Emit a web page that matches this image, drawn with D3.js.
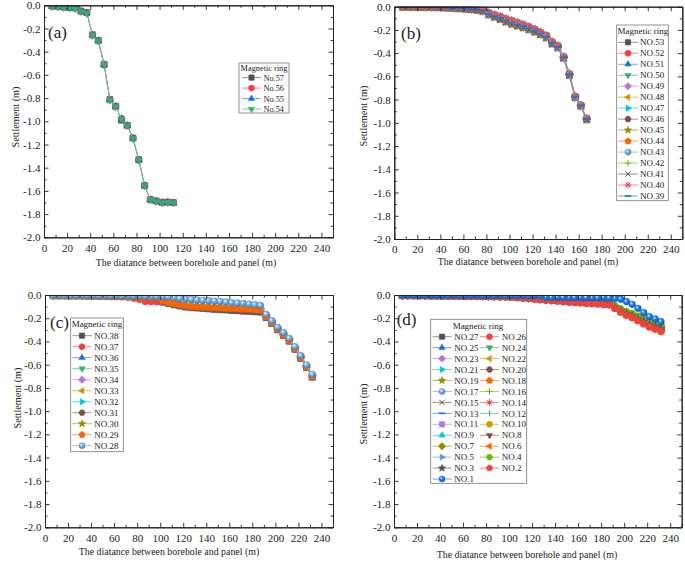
<!DOCTYPE html>
<html><head><meta charset="utf-8">
<script src="https://cdn.jsdelivr.net/npm/d3@7/dist/d3.min.js"></script>
<style>
body{margin:0;background:#fff}
svg{display:block}
text{font-family:"Liberation Serif","Times New Roman",serif;fill:#222}
</style>
</head><body>
<svg id="chart" width="685" height="562"></svg>
<script>
// ---------------- DATA ----------------
const xTicks=[0,20,40,60,80,100,120,140,160,180,200,220,240];
const xMinor=[10,30,50,70,90,110,130,150,170,190,210,230,250];
const yTicks=[0.0,-0.2,-0.4,-0.6,-0.8,-1.0,-1.2,-1.4,-1.6,-1.8,-2.0];
const yMinor=[-0.1,-0.3,-0.5,-0.7,-0.9,-1.1,-1.3,-1.5,-1.7,-1.9];

// panel (a)
const xA=[7,12,17,22,27,32,37,42,47,52,57,62,67,72,77,82,87,92,97,102,107,112];
const namesA=["No.57","No.56","No.55","No.54"];
const a57=[-0.006,-0.010,-0.015,-0.018,-0.008,-0.050,-0.062,-0.254,-0.303,-0.510,-0.813,-0.870,-0.992,-1.034,-1.144,-1.331,-1.553,-1.674,-1.686,-1.698,-1.696,-1.700];
const a56=[-0.008,-0.012,-0.016,-0.020,-0.026,-0.051,-0.064,-0.256,-0.305,-0.512,-0.815,-0.872,-0.978,-1.036,-1.146,-1.333,-1.555,-1.676,-1.688,-1.700,-1.697,-1.702];
const a55=[-0.010,-0.014,-0.018,-0.022,-0.028,-0.053,-0.066,-0.257,-0.306,-0.513,-0.816,-0.873,-0.979,-1.037,-1.147,-1.334,-1.556,-1.677,-1.689,-1.701,-1.698,-1.703];
const a54=[-0.011,-0.015,-0.019,-0.023,-0.029,-0.054,-0.067,-0.258,-0.307,-0.514,-0.817,-0.874,-0.980,-1.038,-1.148,-1.335,-1.557,-1.678,-1.690,-1.702,-1.699,-1.704];

// panel (b)
const xB=[7,12,17,22,27,32,37,42,47,52,57,62,67,72,77,82,87,92,97,102,107,112,117,122,127,132,137,142,147,152,157,162,167];
const namesB=["NO.53","NO.52","NO.51","NO.50","NO.49","NO.48","NO.47","NO.46","NO.45","NO.44","NO.43","NO.42","NO.41","NO.40","NO.39"];
const b53=[-0.002,-0.002,-0.003,-0.003,-0.004,-0.005,-0.006,-0.007,-0.009,-0.011,-0.014,-0.017,-0.021,-0.026,-0.033,-0.058,-0.077,-0.094,-0.115,-0.132,-0.149,-0.165,-0.183,-0.203,-0.228,-0.255,-0.309,-0.342,-0.435,-0.583,-0.776,-0.850,-0.966];
const b52=[-0.001,-0.001,-0.002,-0.002,-0.003,-0.004,-0.005,-0.006,-0.008,-0.010,-0.013,-0.016,-0.019,-0.023,-0.030,-0.052,-0.070,-0.085,-0.105,-0.121,-0.138,-0.155,-0.173,-0.194,-0.219,-0.248,-0.302,-0.336,-0.431,-0.578,-0.772,-0.847,-0.962];
const b51=[-0.003,-0.003,-0.004,-0.004,-0.005,-0.006,-0.008,-0.010,-0.012,-0.015,-0.018,-0.022,-0.027,-0.033,-0.042,-0.075,-0.095,-0.115,-0.138,-0.157,-0.172,-0.187,-0.204,-0.224,-0.247,-0.274,-0.327,-0.360,-0.448,-0.596,-0.787,-0.861,-0.977];
const b50=[-0.002,-0.002,-0.003,-0.003,-0.004,-0.005,-0.006,-0.008,-0.010,-0.012,-0.015,-0.018,-0.022,-0.027,-0.035,-0.062,-0.080,-0.097,-0.118,-0.135,-0.152,-0.168,-0.185,-0.205,-0.230,-0.258,-0.312,-0.345,-0.437,-0.585,-0.778,-0.852,-0.968];
const b49=[-0.003,-0.003,-0.003,-0.004,-0.005,-0.006,-0.007,-0.009,-0.011,-0.014,-0.017,-0.020,-0.025,-0.031,-0.040,-0.070,-0.090,-0.108,-0.130,-0.148,-0.164,-0.180,-0.197,-0.217,-0.240,-0.267,-0.320,-0.353,-0.443,-0.591,-0.783,-0.857,-0.973];
const b48=[-0.002,-0.002,-0.003,-0.003,-0.004,-0.005,-0.006,-0.008,-0.010,-0.012,-0.015,-0.018,-0.022,-0.028,-0.036,-0.064,-0.083,-0.100,-0.121,-0.138,-0.155,-0.171,-0.188,-0.208,-0.233,-0.261,-0.315,-0.348,-0.439,-0.587,-0.780,-0.854,-0.970];
const b47=[-0.001,-0.001,-0.002,-0.002,-0.003,-0.004,-0.005,-0.006,-0.008,-0.010,-0.012,-0.015,-0.018,-0.022,-0.028,-0.048,-0.065,-0.080,-0.100,-0.115,-0.132,-0.150,-0.168,-0.190,-0.215,-0.245,-0.298,-0.332,-0.428,-0.575,-0.770,-0.845,-0.960];
const b46=[-0.002,-0.002,-0.003,-0.003,-0.004,-0.005,-0.006,-0.008,-0.010,-0.012,-0.015,-0.019,-0.023,-0.028,-0.036,-0.060,-0.079,-0.096,-0.117,-0.134,-0.151,-0.167,-0.184,-0.204,-0.229,-0.257,-0.311,-0.344,-0.436,-0.584,-0.777,-0.851,-0.967];
const b45=[-0.003,-0.003,-0.004,-0.004,-0.005,-0.006,-0.007,-0.009,-0.011,-0.014,-0.017,-0.021,-0.026,-0.032,-0.041,-0.072,-0.092,-0.111,-0.132,-0.151,-0.167,-0.182,-0.199,-0.219,-0.242,-0.269,-0.322,-0.355,-0.445,-0.593,-0.784,-0.858,-0.974];
const b44=[-0.002,-0.002,-0.003,-0.003,-0.004,-0.005,-0.006,-0.008,-0.010,-0.013,-0.016,-0.019,-0.023,-0.028,-0.036,-0.063,-0.082,-0.099,-0.120,-0.137,-0.154,-0.170,-0.187,-0.207,-0.232,-0.260,-0.314,-0.347,-0.438,-0.586,-0.779,-0.853,-0.969];
const b43=[-0.001,-0.002,-0.002,-0.003,-0.003,-0.004,-0.005,-0.007,-0.009,-0.011,-0.013,-0.016,-0.020,-0.024,-0.031,-0.055,-0.072,-0.088,-0.108,-0.124,-0.141,-0.158,-0.176,-0.197,-0.222,-0.251,-0.305,-0.339,-0.433,-0.580,-0.774,-0.848,-0.964];
const b42=[-0.002,-0.002,-0.002,-0.003,-0.004,-0.005,-0.006,-0.007,-0.009,-0.012,-0.014,-0.017,-0.021,-0.027,-0.034,-0.061,-0.079,-0.096,-0.117,-0.134,-0.151,-0.167,-0.186,-0.206,-0.231,-0.259,-0.313,-0.346,-0.438,-0.586,-0.779,-0.853,-0.969];
const b41=[-0.003,-0.003,-0.004,-0.004,-0.005,-0.006,-0.008,-0.010,-0.012,-0.015,-0.018,-0.022,-0.027,-0.033,-0.042,-0.074,-0.094,-0.114,-0.134,-0.154,-0.169,-0.184,-0.201,-0.221,-0.244,-0.271,-0.324,-0.357,-0.446,-0.594,-0.785,-0.859,-0.975];
const b40=[-0.001,-0.001,-0.001,-0.002,-0.002,-0.003,-0.004,-0.005,-0.007,-0.009,-0.011,-0.014,-0.017,-0.021,-0.027,-0.046,-0.063,-0.078,-0.098,-0.113,-0.130,-0.148,-0.166,-0.188,-0.213,-0.243,-0.296,-0.330,-0.426,-0.573,-0.768,-0.843,-0.958];
const b39=[-0.002,-0.002,-0.003,-0.003,-0.004,-0.005,-0.006,-0.008,-0.010,-0.012,-0.015,-0.018,-0.022,-0.027,-0.035,-0.063,-0.081,-0.098,-0.119,-0.136,-0.153,-0.169,-0.186,-0.206,-0.231,-0.259,-0.313,-0.346,-0.437,-0.585,-0.778,-0.852,-0.968];

// panel (c) and (d) share the x positions
const xCD=[7,12,17,22,27,32,37,42,47,52,57,62,67,72,77,82,87,92,97,102,107,112,117,122,127,132,137,142,147,152,157,162,167,172,177,182,187,192,197,202,207,212,217,222,227,232];
const namesC=["NO.38","NO.37","NO.36","NO.35","NO.34","NO.33","NO.32","NO.31","NO.30","NO.29","NO.28"];
const c38=[-0.006,-0.006,-0.006,-0.007,-0.007,-0.007,-0.008,-0.008,-0.009,-0.009,-0.010,-0.010,-0.010,-0.010,-0.011,-0.012,-0.014,-0.016,-0.018,-0.060,-0.072,-0.085,-0.095,-0.104,-0.110,-0.113,-0.117,-0.121,-0.124,-0.127,-0.130,-0.133,-0.136,-0.139,-0.142,-0.145,-0.148,-0.195,-0.245,-0.300,-0.348,-0.398,-0.468,-0.545,-0.625,-0.708];
const c37=[-0.005,-0.005,-0.006,-0.006,-0.007,-0.007,-0.008,-0.009,-0.010,-0.011,-0.012,-0.014,-0.016,-0.020,-0.028,-0.038,-0.057,-0.058,-0.058,-0.062,-0.070,-0.077,-0.086,-0.094,-0.099,-0.102,-0.106,-0.109,-0.112,-0.115,-0.118,-0.121,-0.124,-0.127,-0.130,-0.133,-0.137,-0.190,-0.242,-0.296,-0.344,-0.394,-0.464,-0.541,-0.621,-0.704];
const c36=[-0.006,-0.006,-0.007,-0.007,-0.007,-0.008,-0.008,-0.009,-0.009,-0.010,-0.010,-0.010,-0.011,-0.011,-0.011,-0.012,-0.015,-0.017,-0.019,-0.062,-0.075,-0.087,-0.097,-0.106,-0.112,-0.116,-0.120,-0.124,-0.127,-0.130,-0.133,-0.136,-0.139,-0.142,-0.145,-0.148,-0.150,-0.198,-0.249,-0.304,-0.352,-0.402,-0.472,-0.549,-0.629,-0.712];
const c35=[-0.005,-0.005,-0.006,-0.006,-0.006,-0.007,-0.007,-0.008,-0.008,-0.009,-0.009,-0.009,-0.010,-0.010,-0.010,-0.011,-0.013,-0.015,-0.017,-0.052,-0.064,-0.075,-0.086,-0.095,-0.101,-0.104,-0.107,-0.110,-0.112,-0.115,-0.118,-0.120,-0.122,-0.125,-0.127,-0.130,-0.133,-0.188,-0.240,-0.294,-0.342,-0.392,-0.462,-0.540,-0.620,-0.702];
const c34=[-0.005,-0.005,-0.005,-0.006,-0.006,-0.006,-0.007,-0.007,-0.008,-0.008,-0.009,-0.009,-0.009,-0.010,-0.010,-0.011,-0.013,-0.014,-0.016,-0.050,-0.061,-0.072,-0.082,-0.092,-0.097,-0.100,-0.103,-0.106,-0.108,-0.110,-0.113,-0.115,-0.117,-0.120,-0.122,-0.125,-0.128,-0.185,-0.238,-0.292,-0.340,-0.390,-0.460,-0.538,-0.618,-0.700];
const c33=[-0.004,-0.004,-0.005,-0.005,-0.005,-0.006,-0.006,-0.007,-0.007,-0.008,-0.008,-0.008,-0.009,-0.009,-0.009,-0.010,-0.012,-0.013,-0.015,-0.045,-0.056,-0.067,-0.078,-0.086,-0.091,-0.094,-0.097,-0.100,-0.102,-0.105,-0.108,-0.110,-0.112,-0.115,-0.117,-0.120,-0.123,-0.181,-0.235,-0.289,-0.336,-0.386,-0.456,-0.534,-0.614,-0.696];
const c32=[-0.004,-0.004,-0.004,-0.005,-0.005,-0.005,-0.006,-0.006,-0.007,-0.007,-0.008,-0.008,-0.008,-0.009,-0.009,-0.010,-0.011,-0.012,-0.014,-0.042,-0.053,-0.063,-0.072,-0.080,-0.085,-0.088,-0.091,-0.094,-0.097,-0.100,-0.103,-0.106,-0.108,-0.110,-0.112,-0.115,-0.118,-0.178,-0.232,-0.286,-0.333,-0.383,-0.453,-0.530,-0.610,-0.692];
const c31=[-0.006,-0.006,-0.006,-0.006,-0.007,-0.007,-0.008,-0.008,-0.009,-0.009,-0.010,-0.010,-0.010,-0.011,-0.011,-0.012,-0.014,-0.016,-0.018,-0.058,-0.070,-0.083,-0.093,-0.102,-0.107,-0.110,-0.114,-0.118,-0.121,-0.124,-0.127,-0.130,-0.133,-0.136,-0.139,-0.142,-0.145,-0.192,-0.243,-0.297,-0.345,-0.395,-0.465,-0.543,-0.622,-0.705];
const c30=[-0.005,-0.005,-0.005,-0.005,-0.006,-0.006,-0.006,-0.007,-0.007,-0.008,-0.008,-0.009,-0.009,-0.009,-0.010,-0.011,-0.012,-0.014,-0.016,-0.048,-0.060,-0.070,-0.080,-0.090,-0.095,-0.098,-0.101,-0.104,-0.106,-0.108,-0.111,-0.113,-0.115,-0.118,-0.120,-0.123,-0.126,-0.183,-0.236,-0.290,-0.338,-0.388,-0.458,-0.536,-0.616,-0.698];
const c29=[-0.005,-0.005,-0.005,-0.006,-0.006,-0.006,-0.007,-0.007,-0.008,-0.008,-0.009,-0.009,-0.009,-0.010,-0.010,-0.011,-0.013,-0.015,-0.017,-0.052,-0.063,-0.074,-0.086,-0.093,-0.098,-0.101,-0.104,-0.107,-0.109,-0.111,-0.114,-0.116,-0.118,-0.121,-0.123,-0.126,-0.129,-0.186,-0.239,-0.293,-0.341,-0.391,-0.461,-0.539,-0.619,-0.701];
const c28=[-0.003,-0.003,-0.003,-0.004,-0.004,-0.004,-0.004,-0.005,-0.005,-0.005,-0.006,-0.006,-0.007,-0.007,-0.008,-0.009,-0.010,-0.011,-0.012,-0.015,-0.018,-0.022,-0.030,-0.034,-0.038,-0.042,-0.046,-0.049,-0.052,-0.055,-0.060,-0.066,-0.069,-0.072,-0.078,-0.083,-0.090,-0.166,-0.221,-0.278,-0.324,-0.373,-0.445,-0.522,-0.602,-0.683];

// panel (d)
const namesD=["NO.27","NO.26","NO.25","NO.24","NO.23","NO.22","NO.21","NO.20","NO.19","NO.18","NO.17","NO.16","NO.15","NO.14","NO.13","NO.12","NO.11","NO.10","NO.9","NO.8","NO.7","NO.6","NO.5","NO.4","NO.3","NO.2","NO.1"];
const r27=[-0.003,-0.003,-0.004,-0.004,-0.004,-0.005,-0.005,-0.005,-0.006,-0.006,-0.006,-0.007,-0.007,-0.008,-0.008,-0.009,-0.010,-0.010,-0.011,-0.013,-0.015,-0.018,-0.022,-0.026,-0.030,-0.034,-0.038,-0.042,-0.045,-0.048,-0.052,-0.055,-0.058,-0.061,-0.064,-0.068,-0.074,-0.109,-0.140,-0.166,-0.186,-0.212,-0.238,-0.264,-0.281,-0.300];
const r26=[-0.004,-0.004,-0.005,-0.005,-0.005,-0.006,-0.006,-0.007,-0.007,-0.008,-0.008,-0.009,-0.009,-0.010,-0.011,-0.012,-0.013,-0.014,-0.015,-0.017,-0.020,-0.024,-0.028,-0.033,-0.038,-0.042,-0.046,-0.050,-0.054,-0.058,-0.062,-0.065,-0.068,-0.071,-0.074,-0.078,-0.082,-0.112,-0.144,-0.171,-0.193,-0.219,-0.246,-0.272,-0.291,-0.310];
const r25=[-0.003,-0.003,-0.004,-0.004,-0.004,-0.005,-0.005,-0.005,-0.006,-0.006,-0.006,-0.007,-0.007,-0.008,-0.008,-0.009,-0.010,-0.011,-0.012,-0.013,-0.015,-0.018,-0.022,-0.026,-0.030,-0.034,-0.038,-0.041,-0.045,-0.048,-0.051,-0.055,-0.058,-0.061,-0.064,-0.067,-0.073,-0.107,-0.137,-0.163,-0.183,-0.209,-0.234,-0.259,-0.277,-0.295];
const r24=[-0.002,-0.002,-0.003,-0.003,-0.003,-0.004,-0.004,-0.004,-0.005,-0.005,-0.005,-0.006,-0.006,-0.006,-0.007,-0.007,-0.008,-0.008,-0.009,-0.010,-0.012,-0.014,-0.017,-0.020,-0.023,-0.026,-0.029,-0.032,-0.035,-0.038,-0.041,-0.044,-0.047,-0.050,-0.053,-0.056,-0.071,-0.103,-0.133,-0.157,-0.177,-0.201,-0.226,-0.251,-0.267,-0.285];
const r23=[-0.004,-0.004,-0.005,-0.005,-0.005,-0.006,-0.006,-0.007,-0.007,-0.008,-0.008,-0.009,-0.009,-0.010,-0.011,-0.012,-0.013,-0.014,-0.015,-0.017,-0.020,-0.024,-0.028,-0.032,-0.037,-0.041,-0.045,-0.049,-0.053,-0.057,-0.061,-0.064,-0.067,-0.070,-0.073,-0.077,-0.081,-0.110,-0.142,-0.168,-0.189,-0.216,-0.242,-0.268,-0.286,-0.305];
const r22=[-0.003,-0.003,-0.004,-0.004,-0.004,-0.005,-0.005,-0.005,-0.006,-0.006,-0.006,-0.007,-0.007,-0.008,-0.008,-0.009,-0.010,-0.010,-0.011,-0.013,-0.015,-0.018,-0.022,-0.026,-0.030,-0.034,-0.038,-0.042,-0.045,-0.048,-0.052,-0.055,-0.058,-0.061,-0.064,-0.068,-0.072,-0.105,-0.135,-0.160,-0.180,-0.205,-0.230,-0.255,-0.272,-0.290];
const r21=[-0.002,-0.002,-0.003,-0.003,-0.003,-0.004,-0.004,-0.004,-0.005,-0.005,-0.005,-0.006,-0.006,-0.006,-0.007,-0.007,-0.008,-0.008,-0.009,-0.010,-0.012,-0.014,-0.017,-0.020,-0.023,-0.026,-0.029,-0.032,-0.035,-0.038,-0.041,-0.044,-0.047,-0.050,-0.053,-0.057,-0.069,-0.101,-0.130,-0.155,-0.174,-0.198,-0.222,-0.246,-0.263,-0.280];
const r20=[-0.004,-0.004,-0.005,-0.005,-0.005,-0.006,-0.006,-0.007,-0.007,-0.008,-0.008,-0.009,-0.009,-0.010,-0.011,-0.012,-0.013,-0.014,-0.015,-0.017,-0.020,-0.024,-0.028,-0.033,-0.038,-0.042,-0.046,-0.050,-0.054,-0.058,-0.062,-0.065,-0.068,-0.071,-0.074,-0.078,-0.082,-0.109,-0.140,-0.166,-0.186,-0.212,-0.238,-0.264,-0.281,-0.300];
const r19=[-0.002,-0.002,-0.003,-0.003,-0.003,-0.004,-0.004,-0.004,-0.005,-0.005,-0.005,-0.006,-0.006,-0.006,-0.007,-0.007,-0.008,-0.008,-0.009,-0.010,-0.012,-0.014,-0.017,-0.020,-0.023,-0.026,-0.029,-0.032,-0.035,-0.038,-0.041,-0.044,-0.047,-0.050,-0.053,-0.056,-0.068,-0.100,-0.128,-0.152,-0.171,-0.194,-0.218,-0.242,-0.258,-0.275];
const r18=[-0.004,-0.004,-0.005,-0.005,-0.005,-0.006,-0.006,-0.007,-0.007,-0.008,-0.008,-0.009,-0.009,-0.010,-0.011,-0.012,-0.013,-0.014,-0.015,-0.017,-0.020,-0.024,-0.028,-0.033,-0.038,-0.042,-0.046,-0.050,-0.054,-0.058,-0.062,-0.065,-0.068,-0.071,-0.074,-0.078,-0.083,-0.114,-0.147,-0.174,-0.196,-0.223,-0.250,-0.277,-0.295,-0.315];
const r17=[-0.003,-0.003,-0.004,-0.004,-0.004,-0.005,-0.005,-0.005,-0.006,-0.006,-0.006,-0.007,-0.007,-0.008,-0.008,-0.009,-0.010,-0.010,-0.011,-0.013,-0.015,-0.018,-0.021,-0.025,-0.029,-0.033,-0.037,-0.041,-0.044,-0.047,-0.051,-0.054,-0.057,-0.060,-0.063,-0.067,-0.071,-0.103,-0.133,-0.157,-0.177,-0.201,-0.226,-0.251,-0.267,-0.285];
const r16=[-0.002,-0.002,-0.003,-0.003,-0.003,-0.004,-0.004,-0.004,-0.005,-0.005,-0.005,-0.006,-0.006,-0.006,-0.007,-0.007,-0.008,-0.008,-0.009,-0.010,-0.012,-0.014,-0.016,-0.019,-0.022,-0.025,-0.028,-0.031,-0.034,-0.037,-0.040,-0.043,-0.046,-0.049,-0.052,-0.055,-0.067,-0.098,-0.126,-0.149,-0.168,-0.191,-0.214,-0.237,-0.253,-0.270];
const r15=[-0.004,-0.004,-0.005,-0.005,-0.005,-0.006,-0.006,-0.007,-0.007,-0.008,-0.008,-0.009,-0.009,-0.010,-0.011,-0.012,-0.013,-0.014,-0.015,-0.017,-0.020,-0.024,-0.028,-0.033,-0.038,-0.042,-0.046,-0.050,-0.054,-0.058,-0.062,-0.065,-0.068,-0.071,-0.074,-0.078,-0.082,-0.111,-0.142,-0.168,-0.190,-0.216,-0.242,-0.268,-0.286,-0.305];
const r14=[-0.004,-0.004,-0.005,-0.005,-0.005,-0.006,-0.006,-0.007,-0.007,-0.008,-0.008,-0.009,-0.010,-0.011,-0.012,-0.013,-0.014,-0.015,-0.016,-0.018,-0.021,-0.025,-0.029,-0.034,-0.039,-0.043,-0.047,-0.051,-0.055,-0.059,-0.063,-0.066,-0.069,-0.072,-0.075,-0.079,-0.083,-0.112,-0.144,-0.171,-0.193,-0.219,-0.246,-0.272,-0.291,-0.310];
const r13=[-0.003,-0.003,-0.004,-0.004,-0.004,-0.005,-0.005,-0.005,-0.006,-0.006,-0.006,-0.007,-0.007,-0.008,-0.008,-0.009,-0.010,-0.010,-0.011,-0.013,-0.015,-0.018,-0.022,-0.026,-0.030,-0.034,-0.038,-0.042,-0.045,-0.048,-0.052,-0.055,-0.058,-0.061,-0.064,-0.068,-0.072,-0.105,-0.135,-0.160,-0.180,-0.205,-0.230,-0.255,-0.272,-0.290];
const r12=[-0.002,-0.002,-0.003,-0.003,-0.003,-0.004,-0.004,-0.004,-0.005,-0.005,-0.005,-0.006,-0.006,-0.006,-0.007,-0.007,-0.008,-0.008,-0.009,-0.010,-0.012,-0.014,-0.017,-0.020,-0.023,-0.026,-0.029,-0.032,-0.035,-0.038,-0.041,-0.044,-0.047,-0.050,-0.053,-0.056,-0.068,-0.100,-0.128,-0.152,-0.171,-0.194,-0.218,-0.242,-0.258,-0.275];
const r11=[-0.003,-0.003,-0.004,-0.004,-0.004,-0.005,-0.005,-0.005,-0.006,-0.006,-0.006,-0.007,-0.007,-0.008,-0.008,-0.009,-0.010,-0.010,-0.011,-0.013,-0.015,-0.018,-0.022,-0.026,-0.030,-0.034,-0.038,-0.042,-0.045,-0.048,-0.052,-0.055,-0.058,-0.061,-0.064,-0.068,-0.073,-0.107,-0.137,-0.163,-0.183,-0.209,-0.234,-0.259,-0.277,-0.295];
const r10=[-0.002,-0.002,-0.003,-0.003,-0.003,-0.004,-0.004,-0.004,-0.005,-0.005,-0.005,-0.006,-0.006,-0.006,-0.007,-0.007,-0.008,-0.008,-0.009,-0.010,-0.012,-0.014,-0.017,-0.020,-0.023,-0.026,-0.029,-0.032,-0.035,-0.038,-0.041,-0.044,-0.047,-0.050,-0.053,-0.056,-0.066,-0.096,-0.123,-0.146,-0.165,-0.187,-0.210,-0.233,-0.249,-0.265];
const r9=[-0.003,-0.003,-0.004,-0.004,-0.004,-0.005,-0.005,-0.005,-0.006,-0.006,-0.006,-0.007,-0.007,-0.008,-0.008,-0.009,-0.010,-0.010,-0.011,-0.013,-0.015,-0.018,-0.022,-0.026,-0.030,-0.034,-0.038,-0.042,-0.045,-0.048,-0.052,-0.055,-0.058,-0.061,-0.064,-0.068,-0.069,-0.101,-0.130,-0.155,-0.174,-0.198,-0.222,-0.246,-0.263,-0.280];
const r8=[-0.004,-0.004,-0.005,-0.005,-0.005,-0.006,-0.006,-0.007,-0.007,-0.008,-0.008,-0.009,-0.009,-0.010,-0.011,-0.012,-0.013,-0.014,-0.015,-0.017,-0.020,-0.024,-0.028,-0.033,-0.038,-0.042,-0.046,-0.050,-0.054,-0.058,-0.062,-0.065,-0.068,-0.071,-0.074,-0.078,-0.082,-0.109,-0.140,-0.166,-0.186,-0.212,-0.238,-0.264,-0.281,-0.300];
const r7=[-0.003,-0.003,-0.004,-0.004,-0.004,-0.005,-0.005,-0.005,-0.006,-0.006,-0.006,-0.007,-0.007,-0.008,-0.008,-0.009,-0.010,-0.010,-0.011,-0.013,-0.015,-0.018,-0.022,-0.026,-0.030,-0.034,-0.038,-0.042,-0.045,-0.048,-0.052,-0.055,-0.058,-0.061,-0.064,-0.068,-0.071,-0.103,-0.133,-0.157,-0.177,-0.201,-0.226,-0.251,-0.267,-0.285];
const r6=[-0.004,-0.004,-0.005,-0.005,-0.005,-0.006,-0.006,-0.007,-0.007,-0.008,-0.008,-0.009,-0.009,-0.010,-0.011,-0.012,-0.013,-0.014,-0.015,-0.017,-0.020,-0.024,-0.028,-0.033,-0.038,-0.042,-0.046,-0.050,-0.054,-0.058,-0.062,-0.065,-0.068,-0.071,-0.074,-0.078,-0.082,-0.110,-0.142,-0.168,-0.189,-0.216,-0.242,-0.268,-0.286,-0.305];
const r5=[-0.002,-0.002,-0.003,-0.003,-0.003,-0.004,-0.004,-0.004,-0.005,-0.005,-0.005,-0.006,-0.006,-0.006,-0.007,-0.007,-0.008,-0.008,-0.009,-0.010,-0.012,-0.014,-0.017,-0.020,-0.023,-0.026,-0.029,-0.032,-0.035,-0.038,-0.041,-0.044,-0.047,-0.050,-0.053,-0.056,-0.067,-0.098,-0.126,-0.149,-0.168,-0.191,-0.214,-0.237,-0.253,-0.270];
const r4=[-0.002,-0.002,-0.002,-0.003,-0.003,-0.003,-0.004,-0.004,-0.004,-0.005,-0.005,-0.005,-0.006,-0.006,-0.006,-0.007,-0.007,-0.008,-0.008,-0.009,-0.011,-0.013,-0.016,-0.019,-0.022,-0.025,-0.028,-0.031,-0.034,-0.037,-0.040,-0.043,-0.046,-0.049,-0.052,-0.055,-0.063,-0.092,-0.119,-0.141,-0.158,-0.180,-0.202,-0.224,-0.239,-0.255];
const r3=[-0.003,-0.003,-0.004,-0.004,-0.004,-0.005,-0.005,-0.005,-0.006,-0.006,-0.006,-0.007,-0.007,-0.008,-0.008,-0.009,-0.010,-0.010,-0.011,-0.013,-0.015,-0.018,-0.022,-0.026,-0.030,-0.034,-0.038,-0.042,-0.045,-0.048,-0.052,-0.055,-0.058,-0.061,-0.064,-0.068,-0.072,-0.105,-0.135,-0.160,-0.180,-0.205,-0.230,-0.255,-0.272,-0.290];
const r2=[-0.004,-0.004,-0.005,-0.005,-0.005,-0.006,-0.006,-0.007,-0.007,-0.008,-0.008,-0.009,-0.009,-0.010,-0.011,-0.012,-0.013,-0.014,-0.015,-0.017,-0.020,-0.024,-0.028,-0.033,-0.038,-0.042,-0.046,-0.050,-0.054,-0.058,-0.062,-0.065,-0.068,-0.071,-0.074,-0.078,-0.082,-0.112,-0.144,-0.171,-0.193,-0.219,-0.246,-0.272,-0.291,-0.310];
const r1=[-0.001,-0.001,-0.001,-0.001,-0.002,-0.002,-0.002,-0.002,-0.002,-0.003,-0.003,-0.003,-0.003,-0.003,-0.004,-0.004,-0.004,-0.004,-0.005,-0.005,-0.005,-0.006,-0.006,-0.006,-0.007,-0.020,-0.021,-0.021,-0.022,-0.022,-0.022,-0.023,-0.023,-0.023,-0.024,-0.024,-0.025,-0.029,-0.036,-0.057,-0.080,-0.115,-0.152,-0.187,-0.206,-0.230];

// ---------------- STYLE ----------------
const colors=["#515151","#F14040","#1A6FDF","#37AD6B","#B177DE","#CC9900","#00CBCC","#7D4E4E","#8E8E00","#FB6501","#6699CC","#6FB802"];
const shapes=["square","circle","triUp","triDown","diamond","triLeft","triRight","hexagon","star","pentagon","sphere","plus","cross","asterisk","dash","vbar"];
const strokeOnly=new Set(["plus","cross","asterisk","dash","vbar"]);

const svg=d3.select("#chart");
svg.append("rect").attr("width",685).attr("height",562).attr("fill","#fff");
const defs=svg.append("defs");

function poly(n,R,start){
  const p=[];
  for(let k=0;k<n;k++){const a=(start+k*360/n)*Math.PI/180;p.push([R*Math.cos(a),R*Math.sin(a)]);}
  return "M"+p.map(q=>q[0].toFixed(2)+","+q[1].toFixed(2)).join("L")+"Z";
}
function starPath(R,r){
  const p=[];
  for(let k=0;k<10;k++){const a=(-90+k*36)*Math.PI/180;const rr=k%2?r:R;p.push([rr*Math.cos(a),rr*Math.sin(a)]);}
  return "M"+p.map(q=>q[0].toFixed(2)+","+q[1].toFixed(2)).join("L")+"Z";
}
function shapePath(t,s){
  switch(t){
    case "square": return `M${-3*s},${-3*s}H${3*s}V${3*s}H${-3*s}Z`;
    case "circle": case "sphere": return d3.symbol(d3.symbolCircle,Math.PI*(3.4*s)*(3.4*s))();
    case "triUp": return poly(3,4.1*s,-90);
    case "triDown": return poly(3,4.1*s,90);
    case "triLeft": return poly(3,4.1*s,180);
    case "triRight": return poly(3,4.1*s,0);
    case "diamond": return poly(4,4.1*s,-90);
    case "hexagon": return poly(6,3.6*s,0);
    case "pentagon": return poly(5,3.8*s,-90);
    case "star": return starPath(4.4*s,1.9*s);
    case "plus": return `M${-3.6*s},0H${3.6*s}M0,${-3.6*s}V${3.6*s}`;
    case "cross": return `M${-3*s},${-3*s}L${3*s},${3*s}M${-3*s},${3*s}L${3*s},${-3*s}`;
    case "asterisk": return `M${-3.7*s},0H${3.7*s}M0,${-3.7*s}V${3.7*s}M${-2.6*s},${-2.6*s}L${2.6*s},${2.6*s}M${-2.6*s},${2.6*s}L${2.6*s},${-2.6*s}`;
    case "dash": return `M${-3.6*s},0H${3.6*s}`;
    case "vbar": return `M0,${-3.6*s}V${3.6*s}`;
  }
}
const sphereIds={};
function sphereFill(col){
  if(!sphereIds[col]){
    const id="sph"+Object.keys(sphereIds).length;
    const c=d3.color(col);
    const g=defs.append("radialGradient").attr("id",id).attr("cx","38%").attr("cy","35%").attr("r","65%");
    g.append("stop").attr("offset","0%").attr("stop-color","#ffffff");
    g.append("stop").attr("offset","35%").attr("stop-color",c.brighter(0.6).formatHex());
    g.append("stop").attr("offset","100%").attr("stop-color",c.darker(0.7).formatHex());
    sphereIds[col]=id;
  }
  return `url(#${sphereIds[col]})`;
}
function styleMarker(sel,shape,col){
  if(strokeOnly.has(shape)){
    sel.attr("fill","none").attr("stroke",col).attr("stroke-width",shape==="dash"?1.6:1);
  }else if(shape==="sphere"){
    sel.attr("fill",sphereFill(col)).attr("stroke",d3.color(col).darker(0.5)).attr("stroke-width",0.4);
  }else{
    sel.attr("fill",col).attr("stroke",col).attr("stroke-width",0.5);
  }
}
const lineColor=col=>d3.interpolateRgb(col,"#ffffff")(0.3);

// ---------------- LAYOUT ----------------
const panels=[
 {id:"a",xs:xA,series:[a57,a56,a55,a54],names:namesA,
  l:44,r:333,t:5.3,b:237.3,label:"(a)",lbx:48,lby:32,
  ytx:15,yty:117,xtx:186,xty:263,
  leg:{bx:239,by:63,bw:50,bh:50,tx:264,ty:68,fs:8.3,y0:77.6,dy:10.5,cols:[{l0:242,l1:261,m:251.5,t:263.5}]}},
 {id:"b",xs:xB,series:[b53,b52,b51,b50,b49,b48,b47,b46,b45,b44,b43,b42,b41,b40,b39],names:namesB,
  l:394.3,r:682.3,t:6.7,b:239,label:"(b)",lbx:401,lby:33.3,
  ytx:363,yty:116,xtx:528,xty:262,
  leg:{bx:616.7,by:25,bw:51.6,bh:175.7,tx:642.8,ty:31,fs:9,y0:42.3,dy:10.98,cols:[{l0:618,l1:638,m:628,t:640}]}},
 {id:"c",xs:xCD,series:[c38,c37,c36,c35,c34,c33,c32,c31,c30,c29,c28],names:namesC,
  l:45,r:333,t:295,b:527.3,label:"(c)",lbx:50,lby:321.7,
  ytx:17,yty:398,xtx:169,xty:552,
  leg:{bx:70.7,by:318,bw:52.6,bh:133.7,tx:97,ty:323.5,fs:9,y0:335.7,dy:11,cols:[{l0:72.5,l1:91.5,m:82,t:94.3}]}},
 {id:"d",xs:xCD,series:[r27,r26,r25,r24,r23,r22,r21,r20,r19,r18,r17,r16,r15,r14,r13,r12,r11,r10,r9,r8,r7,r6,r5,r4,r3,r2,r1],names:namesD,
  l:394,r:681.7,t:295,b:527.3,label:"(d)",lbx:396.7,lby:319.3,
  ytx:363,yty:414,xtx:527,xty:555,
  leg:{bx:430.7,by:319.3,bw:96,bh:164,tx:478,ty:325.7,fs:9,y0:336.7,dy:10.95,
   cols:[{l0:432.7,l1:451.7,m:442,t:454.3},{l0:480,l1:499,m:489.5,t:501.7}]}}
];

const fmt=v=>(Math.abs(v)<1e-9?0:v).toFixed(1);

panels.forEach(P=>{
  const g=svg.append("g");
  const x=d3.scaleLinear().domain([0,250]).range([P.l,P.r]);
  const y=d3.scaleLinear().domain([-2,0]).range([P.b,P.t]);
  const cid="clip_"+P.id;
  defs.append("clipPath").attr("id",cid).append("rect")
    .attr("x",P.l).attr("y",P.t).attr("width",P.r-P.l).attr("height",P.b-P.t);
  const plot=g.append("g").attr("clip-path",`url(#${cid})`);
  const line=d3.line().x(d=>x(d[0])).y(d=>y(d[1]));
  P.series.forEach((vals,i)=>{
    const col=colors[i%12], shp=shapes[i%16];
    const pts=P.xs.map((xv,j)=>[xv,vals[j]]);
    const sg=plot.append("g");
    sg.append("path").attr("d",line(pts)).attr("fill","none")
      .attr("stroke",lineColor(col)).attr("stroke-width",0.8);
    const m=sg.selectAll("path.m").data(pts).join("path").attr("class","m")
      .attr("transform",d=>`translate(${x(d[0])},${y(d[1])})`)
      .attr("d",shapePath(shp,1));
    styleMarker(m,shp,col);
  });

  const ax=(gen,tx,ty)=>g.append("g").attr("transform",`translate(${tx},${ty})`).call(gen);
  const styleAx=a=>{a.selectAll("path.domain").attr("stroke","#222").attr("stroke-width",1);
    a.selectAll(".tick line").attr("stroke","#222").attr("stroke-width",0.9);};
  const bx=ax(d3.axisBottom(x).tickValues(xTicks).tickSize(-4.5).tickSizeOuter(0).tickPadding(6.5).tickFormat(d3.format("d")),0,P.b);
  bx.selectAll("text").attr("font-size",11).attr("fill","#222").attr("font-family","Liberation Serif");
  styleAx(bx);
  styleAx(ax(d3.axisBottom(x).tickValues(xMinor).tickSize(-2.5).tickSizeOuter(0).tickFormat(""),0,P.b));
  styleAx(ax(d3.axisTop(x).tickValues(xTicks).tickSize(-4.5).tickSizeOuter(0).tickFormat(""),0,P.t));
  styleAx(ax(d3.axisTop(x).tickValues(xMinor).tickSize(-2.5).tickSizeOuter(0).tickFormat(""),0,P.t));
  const ly=ax(d3.axisLeft(y).tickValues(yTicks).tickSize(-4.5).tickSizeOuter(0).tickPadding(3.5).tickFormat(fmt),P.l,0);
  ly.selectAll("text").attr("font-size",11).attr("fill","#222").attr("font-family","Liberation Serif");
  styleAx(ly);
  styleAx(ax(d3.axisLeft(y).tickValues(yMinor).tickSize(-2.5).tickSizeOuter(0).tickFormat(""),P.l,0));
  styleAx(ax(d3.axisRight(y).tickValues(yTicks).tickSize(-4.5).tickSizeOuter(0).tickFormat(""),P.r,0));
  styleAx(ax(d3.axisRight(y).tickValues(yMinor).tickSize(-2.5).tickSizeOuter(0).tickFormat(""),P.r,0));

  g.append("text").attr("x",P.xtx).attr("y",P.xty).attr("dy","0.35em").attr("text-anchor","middle")
    .attr("font-size",9.9).text("The diatance between borehole and panel (m)");
  g.append("text").attr("transform",`translate(${P.ytx},${P.yty}) rotate(-90)`).attr("dy","0.35em")
    .attr("text-anchor","middle").attr("font-size",10.2).text("Settlement (m)");
  g.append("text").attr("x",P.lbx).attr("y",P.lby).attr("dy","0.35em").attr("font-size",17).text(P.label);

  const L=P.leg;
  const lg=g.append("g");
  lg.append("rect").attr("x",L.bx).attr("y",L.by).attr("width",L.bw).attr("height",L.bh)
    .attr("fill","#fff").attr("stroke","#777").attr("stroke-width",0.8);
  lg.append("text").attr("x",L.tx).attr("y",L.ty).attr("dy","0.35em").attr("text-anchor","middle")
    .attr("font-size",L.fs).text("Magnetic ring");
  P.names.forEach((nm,i)=>{
    const nc=L.cols.length, c=L.cols[i%nc], row=Math.floor(i/nc);
    const yy=L.y0+row*L.dy;
    const col=colors[i%12], shp=shapes[i%16];
    lg.append("line").attr("x1",c.l0).attr("x2",c.l1).attr("y1",yy).attr("y2",yy)
      .attr("stroke",lineColor(col)).attr("stroke-width",0.9);
    const mk=lg.append("path").attr("transform",`translate(${c.m},${yy})`).attr("d",shapePath(shp,0.9));
    styleMarker(mk,shp,col);
    lg.append("text").attr("x",c.t).attr("y",yy).attr("dy","0.35em").attr("font-size",L.fs).text(nm);
  });
});
</script>
</body></html>
